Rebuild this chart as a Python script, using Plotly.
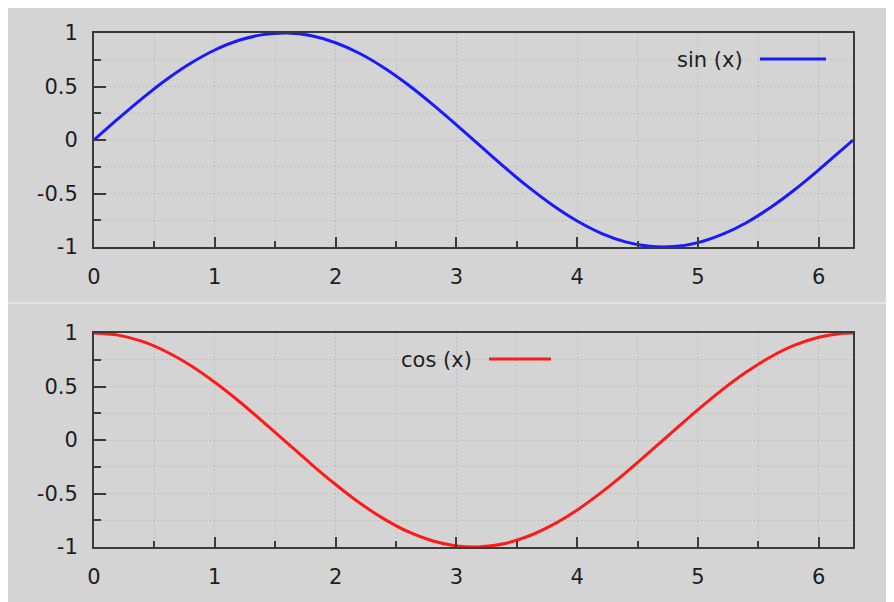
import plotly.graph_objects as go
from plotly.subplots import make_subplots

# values
x_vals = [0, 0.2, 0.4, 0.6, 0.8, 1.0, 1.2, 1.4, 1.6, 1.8, 2.0, 2.2, 2.4, 2.6, 2.8, 3.0,
          3.2, 3.4, 3.6, 3.8, 4.0, 4.2, 4.4, 4.6, 4.8, 5.0, 5.2, 5.4, 5.6, 5.8, 6.0, 6.2, 6.283]
sin_vals = [0, 0.199, 0.389, 0.565, 0.717, 0.841, 0.932, 0.985, 1.000, 0.974, 0.909, 0.808, 0.675, 0.516,
            0.335, 0.141, -0.058, -0.256, -0.443, -0.612, -0.757, -0.872, -0.952, -0.994, -0.996, -0.959,
            -0.883, -0.773, -0.631, -0.465, -0.279, -0.083, 0.0]
cos_vals = [1.0, 0.980, 0.921, 0.825, 0.697, 0.540, 0.362, 0.170, -0.029, -0.227, -0.416, -0.589, -0.737,
            -0.857, -0.942, -0.990, -0.998, -0.967, -0.897, -0.791, -0.654, -0.490, -0.307, -0.112, 0.087,
            0.284, 0.469, 0.635, 0.776, 0.886, 0.960, 0.997, 1.0]
x_ticks = [0, 1, 2, 3, 4, 5, 6]
y_ticks = [-1, -0.5, 0, 0.5, 1]
y_ticktext = ["-1", "-0.5", "0", "0.5", "1"]

W, H = 894, 602
OFF = 8  # page body margin in the browser
BG = "#d4d4d4"
AXC = "#3a3a3a"
GRID = "#ababab"
FONT = dict(family="DejaVu Sans", size=21, color="#1e1e1e")

fig = make_subplots(rows=2, cols=1)
fig.add_trace(go.Scatter(x=x_vals, y=sin_vals, mode="lines", line=dict(color="#1a1aff", width=3, shape="spline"),
                         showlegend=False), row=1, col=1)
fig.add_trace(go.Scatter(x=x_vals, y=cos_vals, mode="lines", line=dict(color="#ff1a1a", width=3, shape="spline"),
                         showlegend=False), row=2, col=1)


def px_x(v):
    return (v - OFF) / W


def px_y(v):
    return 1 - (v - OFF) / H


xdom = [px_x(94), px_x(853)]
ydoms = [[px_y(247), px_y(33)], [px_y(547), px_y(333)]]

for i in range(2):
    xa = "xaxis" if i == 0 else "xaxis2"
    ya = "yaxis" if i == 0 else "yaxis2"
    fig.layout[xa].update(
        domain=xdom, range=[0, 6.2832], tickvals=x_ticks, ticks="inside", ticklen=10, tickwidth=2,
        tickcolor=AXC, showline=True, linecolor=AXC, linewidth=2, mirror=True, automargin=False,
        showgrid=True, gridcolor=GRID, griddash="1px,3px", gridwidth=1, zeroline=False,
        tickfont=FONT, ticklabelstandoff=10,
        minor=dict(dtick=0.5, tick0=0, ticks="inside", ticklen=6, tickwidth=2, tickcolor=AXC,
                   showgrid=True, gridcolor=GRID, griddash="1px,3px", gridwidth=1),
    )
    fig.layout[ya].update(
        domain=ydoms[i], range=[-1, 1], tickvals=y_ticks, ticktext=y_ticktext, ticks="inside", ticklen=12,
        tickwidth=2, tickcolor=AXC, showline=True, linecolor=AXC, linewidth=2, mirror=True, automargin=False,
        showgrid=True, gridcolor=GRID, griddash="1px,3px", gridwidth=1, zeroline=False,
        tickfont=FONT, ticklabelstandoff=10,
        minor=dict(dtick=0.25, tick0=0, ticks="inside", ticklen=7, tickwidth=2, tickcolor=AXC,
                   showgrid=True, gridcolor=GRID, griddash="1px,3px", gridwidth=1),
    )

# gnuplot-style keys: text then sample line
fig.add_annotation(x=px_x(745), y=px_y(60), xref="paper", yref="paper", text="sin (x)", showarrow=False,
                   xanchor="right", yanchor="middle", font=FONT)
fig.add_shape(type="line", xref="paper", yref="paper", x0=px_x(760), x1=px_x(826), y0=px_y(59), y1=px_y(59),
              line=dict(color="#1a1aff", width=3))
fig.add_annotation(x=px_x(474), y=px_y(360), xref="paper", yref="paper", text="cos (x)", showarrow=False,
                   xanchor="right", yanchor="middle", font=FONT)
fig.add_shape(type="line", xref="paper", yref="paper", x0=px_x(489), x1=px_x(551), y0=px_y(359), y1=px_y(359),
              line=dict(color="#ff1a1a", width=3))

# light separator between the two panels
fig.add_shape(type="line", xref="paper", yref="paper", x0=0, x1=1, y0=px_y(303), y1=px_y(303),
              line=dict(color="#e4e4e4", width=2), layer="below")

fig.update_layout(
    width=W, height=H, margin=dict(l=0, r=0, t=0, b=0, pad=0, autoexpand=False),
    paper_bgcolor=BG, plot_bgcolor=BG, showlegend=False, font=FONT,
)

fig.write_html("out.html")
